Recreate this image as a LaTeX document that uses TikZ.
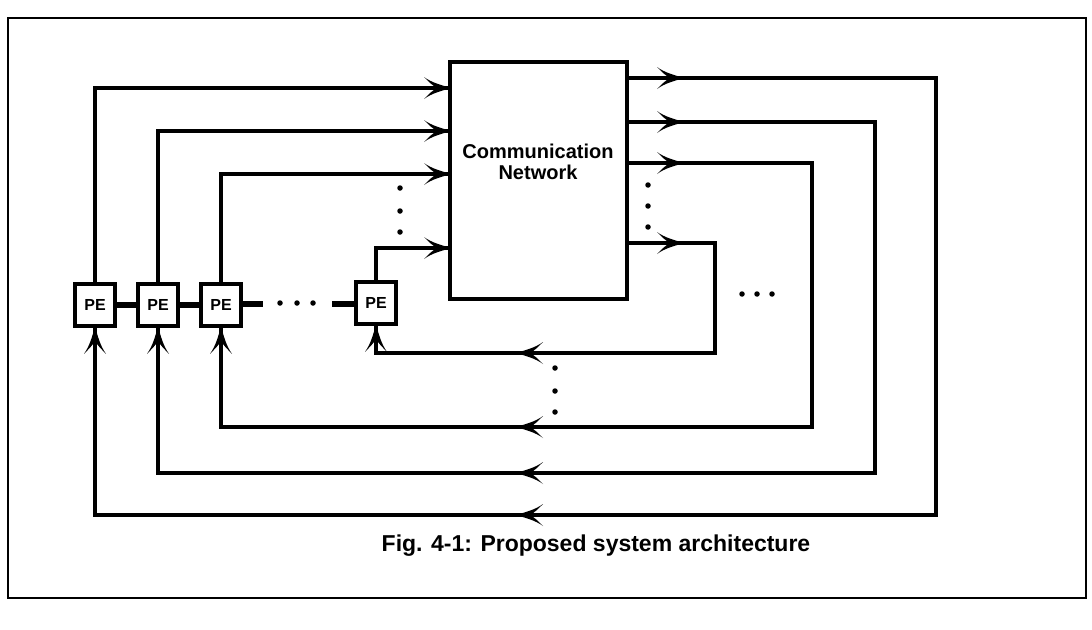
\documentclass[tikz,border=0pt]{standalone}
\usepackage{fontspec}
\setmainfont{Liberation Sans}
\usetikzlibrary{decorations.markings}
\newcommand{\barbtip}{\fill (1pt,0pt) .. controls (-7pt,-2.5pt) and (-18pt,-5pt) .. (-26pt,-11pt)
  .. controls (-21pt,-6pt) and (-17pt,-2pt) .. (-13pt,0pt)
  .. controls (-17pt,2pt) and (-21pt,6pt) .. (-26pt,11pt)
  .. controls (-18pt,5pt) and (-7pt,2.5pt) .. (1pt,0pt) -- cycle;}
\begin{document}
\begin{tikzpicture}[x=1pt,y=-1pt,
  wire/.style={line width=3.3pt, line join=miter},
  link/.style={line width=5.5pt},
  frame/.style={line width=2.8pt},
  pebox/.style={draw, line width=3.6pt, minimum width=40pt, minimum height=42pt, inner sep=0pt,
    font=\bfseries\fontsize{16}{16}\selectfont},
  netbox/.style={draw, line width=3.4pt, minimum width=177pt, minimum height=237pt, inner sep=0pt, outer sep=0pt},
  dot/.style={circle, fill, inner sep=0pt, minimum size=5.5pt},
  inarr/.style={postaction={decorate}, decoration={markings, mark=at position 1 with {\barbtip}}},
  looparr/.style 2 args={postaction={decorate}, decoration={markings,
     mark=at position #1pt with {\barbtip},
     mark=at position #2pt with {\barbtip},
     mark=at position 1 with {\barbtip}}}
]
\useasboundingbox (0,0) rectangle (1092,629);
\draw[frame] (8,18) rectangle (1086,598);

% communication network
\node[netbox] (cn) at (538.5,180.5) {};
\node[font=\bfseries\fontsize{20}{21}\selectfont, align=center] (cntext) at (538,162) {Communication\\Network};

% processing elements
\node[pebox] (pe1) at (95,305) {PE};
\node[pebox] (pe2) at (158,305) {PE};
\node[pebox] (pe3) at (221,305) {PE};
\node[pebox] (pe4) at (376,303) {PE};

% chain between PEs
\coordinate (l3) at (263,304);
\coordinate (l4) at (332,304);
\draw[link] (pe1.east) -- (pe2.west);
\draw[link] (pe2.east) -- (pe3.west);
\draw[link] (pe3.east |- l3) -- (l3);
\draw[link] (l4) -- (pe4.west |- l4);
\node[dot] (cd1) at (280,303) {};
\node[dot] (cd2) at (297,303) {};
\node[dot] (cd3) at (313,303) {};

% input levels
\coordinate (yi1) at (0,88);
\coordinate (yi2) at (0,131);
\coordinate (yi3) at (0,174);
\coordinate (yi4) at (0,248);
\draw[wire, inarr] (pe1.north) |- (cn.west |- yi1);
\draw[wire, inarr] (pe2.north) |- (cn.west |- yi2);
\draw[wire, inarr] (pe3.north) |- (cn.west |- yi3);
\draw[wire, inarr] (pe4.north) |- (cn.west |- yi4);
\node[dot] (ld1) at (400,188) {};
\node[dot] (ld2) at (400,211) {};
\node[dot] (ld3) at (400,232) {};

% output levels and return loops
\coordinate (yo1) at (0,78);
\coordinate (yo2) at (0,122);
\coordinate (yo3) at (0,163);
\coordinate (yo4) at (0,243);
\coordinate (c1) at (936,515);
\coordinate (c2) at (875,473);
\coordinate (c3) at (812,427);
\coordinate (c4) at (715,353);
\draw[wire, looparr={56}{1165}] (cn.east |- yo1) -| (c1) -| (pe1.south);
\draw[wire, looparr={56}{957}] (cn.east |- yo2) -| (c2) -| (pe2.south);
\draw[wire, looparr={56}{744}] (cn.east |- yo3) -| (c3) -| (pe3.south);
\draw[wire, looparr={56}{396}] (cn.east |- yo4) -| (c4) -| (pe4.south);

\node[dot] (rd1) at (648,185) {};
\node[dot] (rd2) at (648,206) {};
\node[dot] (rd3) at (648,227) {};
\node[dot] (hd1) at (742,294) {};
\node[dot] (hd2) at (757,294) {};
\node[dot] (hd3) at (772,294) {};
\node[dot] (bd1) at (555,368) {};
\node[dot] (bd2) at (555,391) {};
\node[dot] (bd3) at (555,412) {};

% caption
\node[font=\bfseries\fontsize{23}{23}\selectfont] (cap) at (596,546) {Fig. 4-1: Proposed system architecture};
\end{tikzpicture}
\end{document}
